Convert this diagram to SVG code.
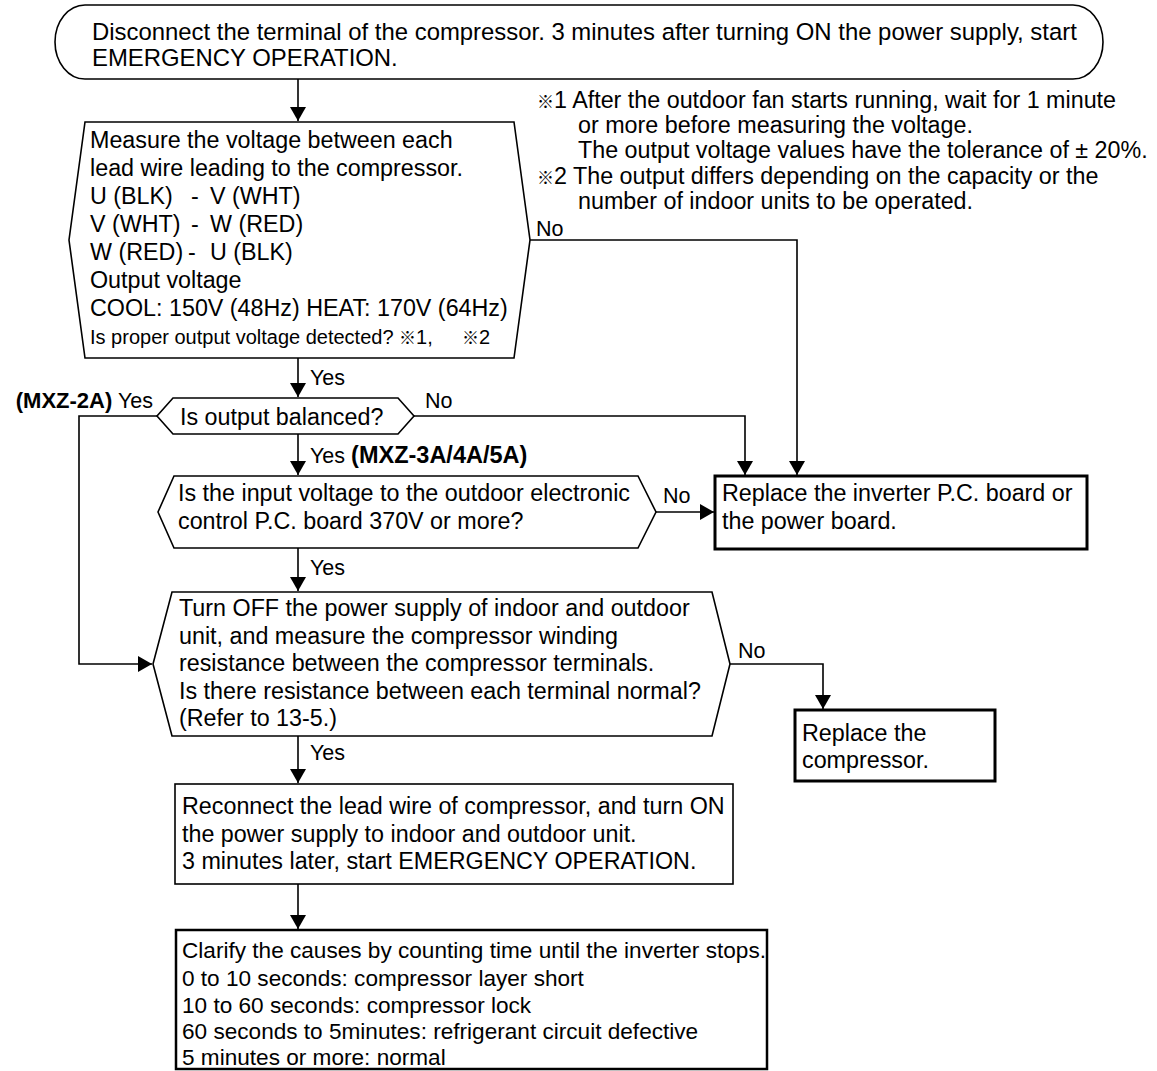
<svg xmlns="http://www.w3.org/2000/svg" width="1157" height="1071" viewBox="0 0 1157 1071">
<style>
text{font-family:"Liberation Sans",Arial,"Noto Sans CJK JP",sans-serif;font-size:23.3px;fill:#000}
.b{font-weight:bold}
.l{font-size:21.5px}
.sm{font-size:20px}
.k{font-size:17px}
.n{fill:#fff;stroke:#000;stroke-width:1.6}
.t{fill:#fff;stroke:#000;stroke-width:3}
.c{fill:none;stroke:#000;stroke-width:1.6}
</style>
<defs>
<marker id="ah" markerUnits="userSpaceOnUse" markerWidth="14" markerHeight="16" viewBox="0 0 14 16" refX="14" refY="8" orient="auto">
<path d="M0,0 L14,8 L0,16 Z" fill="#000"/>
</marker>
</defs>
<rect width="1157" height="1071" fill="#fff"/>
<g id="connectors">
<path class="c" d="M298,79 V121" marker-end="url(#ah)"/>
<path class="c" d="M298,358 V397" marker-end="url(#ah)"/>
<path class="c" d="M298,434 V475" marker-end="url(#ah)"/>
<path class="c" d="M298,548 V591" marker-end="url(#ah)"/>
<path class="c" d="M298,736 V783" marker-end="url(#ah)"/>
<path class="c" d="M298,884 V929" marker-end="url(#ah)"/>
<path class="c" d="M530,240 H797 V475" marker-end="url(#ah)"/>
<path class="c" d="M414,416 H745 V475" marker-end="url(#ah)"/>
<path class="c" d="M656,512 H714" marker-end="url(#ah)"/>
<path class="c" d="M157,416 H79 V664 H152" marker-end="url(#ah)"/>
<path class="c" d="M730,664 H823 V709" marker-end="url(#ah)"/>
<text class="l" x="536" y="236">No</text>
<text class="l" x="310" y="385">Yes</text>
<text class="l" x="153" y="408" text-anchor="end"><tspan class="b" style="font-size:22px">(MXZ-2A)</tspan> Yes</text>
<text class="l" x="425" y="408">No</text>
<text class="l" x="310" y="463">Yes <tspan class="b" style="font-size:23.5px">(MXZ-3A/4A/5A)</tspan></text>
<text class="l" x="663" y="503">No</text>
<text class="l" x="310" y="575">Yes</text>
<text class="l" x="738" y="658">No</text>
<text class="l" x="310" y="760">Yes</text>
</g>
<g id="start">
<rect class="n" x="55" y="5" width="1048" height="74" rx="30" ry="37"/>
<text x="92" y="40" style="font-size:23.9px">Disconnect the terminal of the compressor. 3 minutes after turning ON the power supply, start</text>
<text x="92" y="66" style="font-size:23.9px">EMERGENCY OPERATION.</text>
</g>
<g id="notes">
<text x="537" y="108"><tspan class="k">※</tspan>1 After the outdoor fan starts running, wait for 1 minute</text>
<text x="578" y="133">or more before measuring the voltage.</text>
<text x="578" y="158">The output voltage values have the tolerance of ± 20%.</text>
<text x="537" y="184"><tspan class="k">※</tspan>2 The output differs depending on the capacity or the</text>
<text x="578" y="209">number of indoor units to be operated.</text>
</g>
<g id="measure">
<polygon class="n" points="85,122 514,122 530,240 514,358 85,358 69,240"/>
<text x="90" y="148">Measure the voltage between each</text>
<text x="90" y="176">lead wire leading to the compressor.</text>
<text x="90" y="204">U (BLK)<tspan x="191">-</tspan><tspan x="210">V (WHT)</tspan></text>
<text x="90" y="232">V (WHT)<tspan x="191">-</tspan><tspan x="210">W (RED)</tspan></text>
<text x="90" y="260">W (RED)<tspan x="188">-</tspan><tspan x="210">U (BLK)</tspan></text>
<text x="90" y="288">Output voltage</text>
<text x="90" y="316">COOL: 150V (48Hz) HEAT: 170V (64Hz)</text>
<text class="sm" x="90" y="344">Is proper output voltage detected? <tspan class="k">※</tspan>1,<tspan x="462" class="k">※</tspan>2</text>
</g>
<g id="balanced">
<polygon class="n" points="173,398 398,398 414,416 398,434 173,434 157,416"/>
<text x="180" y="425">Is output balanced?</text>
</g>
<g id="input">
<polygon class="n" points="174,476 638,476 656,512 638,548 174,548 158,512"/>
<text x="178" y="501">Is the input voltage to the outdoor electronic</text>
<text x="178" y="529">control P.C. board 370V or more?</text>
</g>
<g id="replace-board">
<rect class="t" x="715" y="476" width="372" height="73"/>
<text x="722" y="501">Replace the inverter P.C. board or</text>
<text x="722" y="529">the power board.</text>
</g>
<g id="winding">
<polygon class="n" points="172,592 712,592 730,664 712,736 172,736 153,664"/>
<text x="179" y="616">Turn OFF the power supply of indoor and outdoor</text>
<text x="179" y="644">unit, and measure the compressor winding</text>
<text x="179" y="671">resistance between the compressor terminals.</text>
<text x="179" y="699">Is there resistance between each terminal normal?</text>
<text x="179" y="726">(Refer to 13-5.)</text>
</g>
<g id="replace-compressor">
<rect class="t" x="795" y="710" width="200" height="71"/>
<text x="802" y="741">Replace the</text>
<text x="802" y="768">compressor.</text>
</g>
<g id="reconnect">
<rect class="n" x="175" y="784" width="558" height="100"/>
<text x="182" y="814">Reconnect the lead wire of compressor, and turn ON</text>
<text x="182" y="842">the power supply to indoor and outdoor unit.</text>
<text x="182" y="869">3 minutes later, start EMERGENCY OPERATION.</text>
</g>
<g id="clarify">
<rect class="t" x="176" y="930" width="591" height="139" style="stroke-width:2.5"/>
<text x="182" y="958" style="font-size:22.6px">Clarify the causes by counting time until the inverter stops.</text>
<text x="182" y="986" style="font-size:22.6px">0 to 10 seconds: compressor layer short</text>
<text x="182" y="1013" style="font-size:22.6px">10 to 60 seconds: compressor lock</text>
<text x="182" y="1039" style="font-size:22.6px">60 seconds to 5minutes: refrigerant circuit defective</text>
<text x="182" y="1065" style="font-size:22.6px">5 minutes or more: normal</text>
</g>
</svg>
